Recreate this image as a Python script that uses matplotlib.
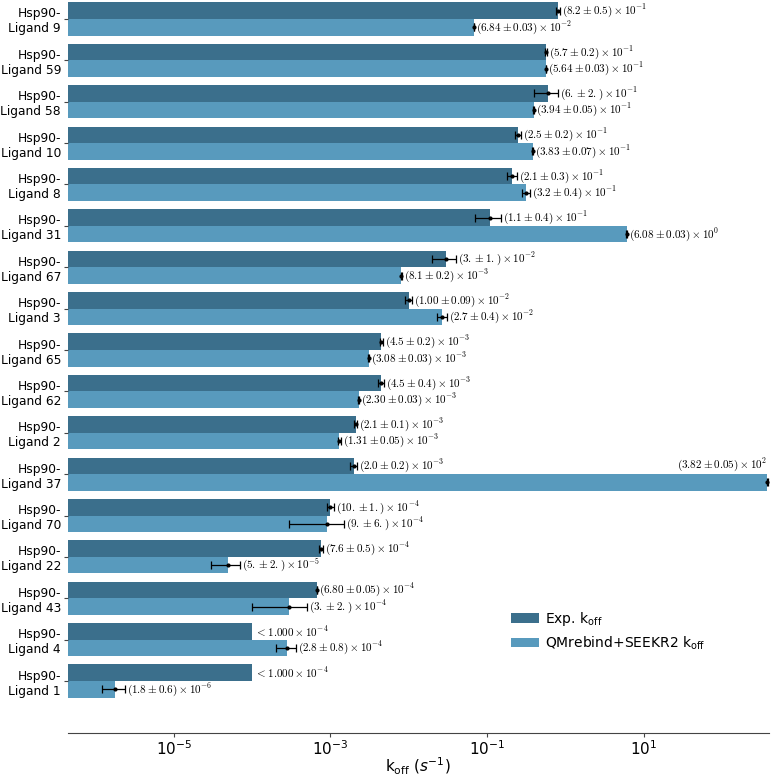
import matplotlib
matplotlib.use("Agg")
import matplotlib.pyplot as plt
import numpy as np

ligands = ["9", "59", "58", "10", "8", "31", "67", "3", "65", "62", "2", "37",
           "70", "22", "43", "4", "1"]

# Experimental k_off: mantissa, error, power of ten (None error => upper bound "<")
exp_mant = ["8.2", "5.7", "6.", "2.5", "2.1", "1.1", "3.", "1.00", "4.5", "4.5",
            "2.1", "2.0", "10.", "7.6", "6.80", "1.000", "1.000"]
exp_err = ["0.5", "0.2", "2.", "0.2", "0.3", "0.4", "1.", "0.09", "0.2", "0.4",
           "0.1", "0.2", "1.", "0.5", "0.05", None, None]
exp_pow = [-1, -1, -1, -1, -1, -1, -2, -2, -3, -3, -3, -3, -4, -4, -4, -4, -4]

# QMrebind+SEEKR2 k_off
qm_mant = ["6.84", "5.64", "3.94", "3.83", "3.2", "6.08", "8.1", "2.7", "3.08",
           "2.30", "1.31", "3.82", "9.", "5.", "3.", "2.8", "1.8"]
qm_err = ["0.03", "0.03", "0.05", "0.07", "0.4", "0.03", "0.2", "0.4", "0.03",
          "0.03", "0.05", "0.05", "6.", "2.", "2.", "0.8", "0.6"]
qm_pow = [-2, -1, -1, -1, -1, 0, -3, -2, -3, -3, -3, 2, -4, -5, -4, -4, -6]

xticks = [1e-5, 1e-3, 1e-1, 1e1]
xlo, xhi = 4.48e-7, 3.95e2

c_exp = "#3b6f8c"
c_qm = "#589abd"

W, H = 774, 776
fig = plt.figure(figsize=(W / 100, H / 100), dpi=100)
ax = fig.add_axes([68 / W, 1 - 701.7 / H, 700.6 / W, 703.4 / H])
ax.set_xscale("log")

n = len(ligands)
ypos = np.arange(n)


def vals(mant, err, pw):
    v = np.array([float(m) * 10.0 ** p for m, p in zip(mant, pw)])
    e = np.array([float(x) * 10.0 ** p if x is not None else np.nan
                  for x, p in zip(err, pw)])
    return v, e


ev, ee = vals(exp_mant, exp_err, exp_pow)
qv, qe = vals(qm_mant, qm_err, qm_pow)

ax.barh(ypos - 0.2, ev - xlo, left=xlo, height=0.4, color=c_exp,
        label=r"Exp. k$_{\rm off}$")
ax.barh(ypos + 0.2, qv - xlo, left=xlo, height=0.4, color=c_qm,
        label=r"QMrebind+SEEKR2 k$_{\rm off}$")

ann_fs = 8
for i in range(n):
    for (v, e, m, er, p, dy) in [(ev[i], ee[i], exp_mant[i], exp_err[i], exp_pow[i], -0.2),
                                 (qv[i], qe[i], qm_mant[i], qm_err[i], qm_pow[i], 0.2)]:
        y = i + dy
        if er is None:
            txt = r"$< %s \times 10^{%d}$" % (m, p)
            ax.annotate(txt, (v, y), xytext=(3, 0), textcoords="offset pixels",
                        ha="left", va="center", fontsize=ann_fs, math_fontfamily="cm")
            continue
        ax.errorbar(v, y, xerr=e, fmt="o", color="k", ms=2, capsize=3,
                    elinewidth=0.9, capthick=0.9)
        txt = r"$(%s \pm %s) \times 10^{%d}$" % (m, er, p)
        if v * 10 > xhi:
            ax.annotate(txt, (v, y - 0.4), xytext=(0, 1), textcoords="offset pixels",
                        ha="right", va="center", fontsize=ann_fs, math_fontfamily="cm")
        else:
            ax.annotate(txt, (v + e, y), xytext=(2, 0), textcoords="offset pixels",
                        ha="left", va="center", fontsize=ann_fs, math_fontfamily="cm")

ax.set_xlim(xlo, xhi)
ax.set_ylim(n - 0.5, -0.5)
ax.set_yticks(ypos)
ax.set_yticklabels(["Hsp90-\nLigand %s" % l for l in ligands], fontsize=8.8,
                   ha="right")
ax.set_xticks(xticks)
ax.xaxis.set_minor_locator(matplotlib.ticker.NullLocator())
ax.tick_params(axis="x", labelsize=11, length=3, width=0.8, color="#444444", pad=1.5)
ax.tick_params(axis="y", length=3, width=0.8, color="#444444", pad=2)
for s in ["top", "right", "left"]:
    ax.spines[s].set_visible(False)
ax.spines["bottom"].set_position(("outward", 22.3))
ax.spines["bottom"].set_color("#444444")
ax.set_xlabel(r"k$_{\rm off}$ $(s^{-1})$", fontsize=11, labelpad=-1.5)

ax.legend(loc="upper left", bbox_to_anchor=(499 / W, 1 - 597 / H),
          bbox_transform=fig.transFigure, frameon=False, fontsize=10,
          handletextpad=0.4)

fig.savefig("out.png", dpi=100)
